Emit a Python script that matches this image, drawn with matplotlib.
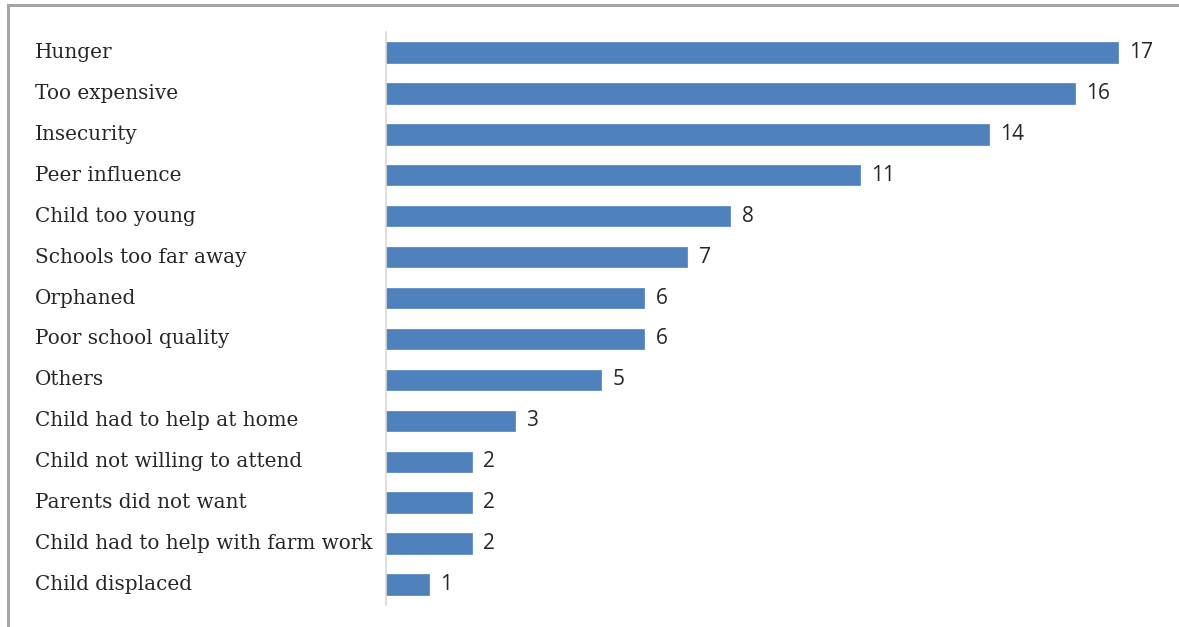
import matplotlib.pyplot as plt
import matplotlib.transforms as mtransforms
from matplotlib.lines import Line2D

# Reasons for not attending school (counts)
reasons = ['Hunger', 'Too expensive', 'Insecurity', 'Peer influence',
           'Child too young', 'Schools too far away', 'Orphaned',
           'Poor school quality', 'Others', 'Child had to help at home',
           'Child not willing to attend', 'Parents did not want',
           'Child had to help with farm work', 'Child displaced']
counts = [17, 16, 14, 11, 8, 7, 6, 6, 5, 3, 2, 2, 2, 1]

W, H = 1179, 627
fig = plt.figure(figsize=(W / 100, H / 100), dpi=100)

# frame around the chart (top and left edges visible)
fig.add_artist(Line2D([8 / W, 8 / W], [0, 1 - 5 / H], transform=fig.transFigure,
                      color='#a6a6a6', lw=2.2))
fig.add_artist(Line2D([8 / W, 1], [1 - 5 / H, 1 - 5 / H], transform=fig.transFigure,
                      color='#a6a6a6', lw=2.2))

ax = fig.add_axes([386 / W, 22 / H, 775 / W, 573 / H])
ypos = list(range(len(reasons)))
ax.barh(ypos, counts, height=0.5, color='#4f81bd', edgecolor='#4f81bd', lw=0.5)
ax.set_xlim(0, 18)
ax.set_ylim(len(reasons) - 0.5, -0.5)

for s in ['top', 'right', 'bottom']:
    ax.spines[s].set_visible(False)
ax.spines['left'].set_color('#d9d9d9')
ax.spines['left'].set_linewidth(1.2)
ax.set_xticks([])
ax.set_yticks([])

trans = mtransforms.blended_transform_factory(fig.transFigure, ax.transData)
for y, lab in zip(ypos, reasons):
    ax.text(35 / W, y, lab, transform=trans, ha='left', va='center',
            fontsize=14.4, family='DejaVu Serif', color='#262626')

for y, v in zip(ypos, counts):
    ax.annotate(str(v), (v, y), xytext=(8, 0), textcoords='offset points',
                ha='left', va='center', fontsize=15, family='Open Sans',
                color='#262626')

fig.savefig('out.png', dpi=100)
